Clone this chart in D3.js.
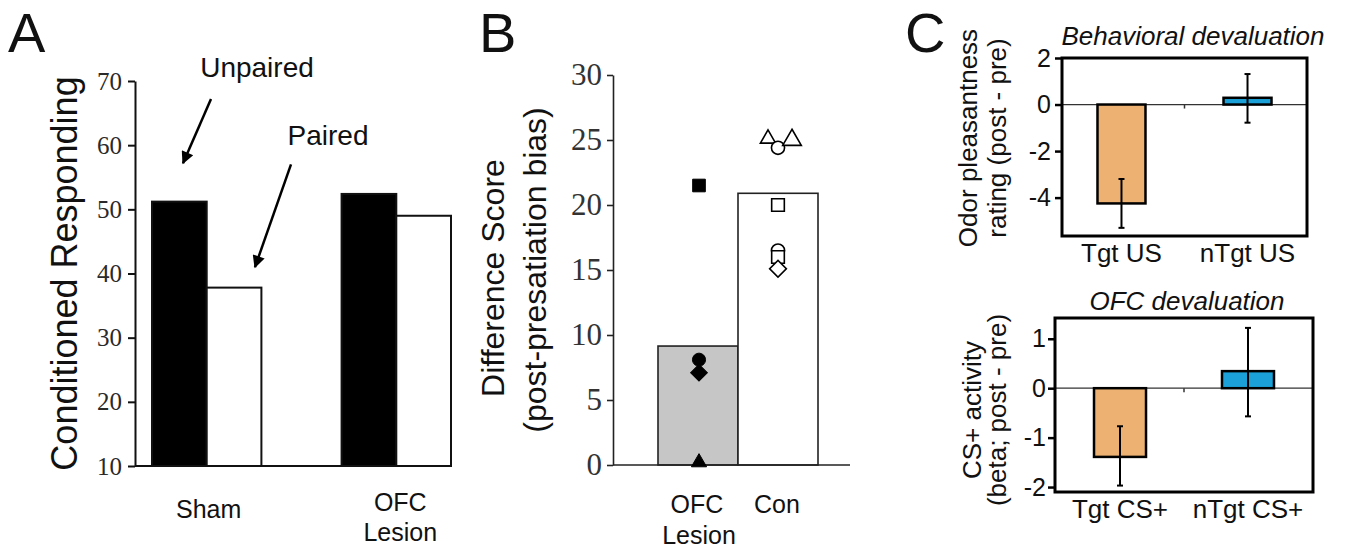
<!DOCTYPE html>
<html>
<head>
<meta charset="utf-8">
<script src="https://cdn.jsdelivr.net/npm/d3@7"></script>
<style>
  body { margin: 0; background: #fff; }
  text { font-family: "Liberation Sans", Arial, sans-serif; fill: #111; }
</style>
</head>
<body>
<div id="chart"></div>
<script>
// ---- data ----
let aGroups = ['Sham', 'OFC Lesion'];
let aSeries = ['Unpaired', 'Paired'];
let aUnpaired = [51.2, 52.4];
let aPaired = [37.8, 49.0];
let aTicks = [10, 20, 30, 40, 50, 60, 70];

let bGroups = ['OFC Lesion', 'Con'];
let bMeans = [9.15, 20.9];
let bTicks = [0, 5, 10, 15, 20, 25, 30];
let bOfcShapes = ['square', 'circle', 'diamond', 'triangle'];
let bOfcValues = [21.5, 8.1, 7.1, 0.2];
let bConShapes = ['triangle', 'circle', 'bigTriangle', 'square', 'circle', 'square', 'diamond'];
let bConValues = [25.1, 24.4, 25.0, 20.0, 16.5, 16.0, 15.1];
let bConJitter = [-10, 0, 14, 0, 0, 0, 0];

let cTopCats = ['Tgt US', 'nTgt US'];
let cTopMeans = [-4.25, 0.29];
let cTopErrLo = [-5.3, -0.78];
let cTopErrHi = [-3.2, 1.31];
let cTopTicks = [2, 0, -2, -4];

let cBotCats = ['Tgt CS+', 'nTgt CS+'];
let cBotMeans = [-1.39, 0.345];
let cBotErrLo = [-1.97, -0.57];
let cBotErrHi = [-0.77, 1.22];
let cBotTicks = [1, 0, -1, -2];

let cColors = ['#edb272', '#1ba1d8'];

let width = 1345;
let height = 550;
let serif = '"Liberation Serif", "Times New Roman", serif';
let sans = '"Liberation Sans", Arial, sans-serif';

let svg = d3.select('#chart')
  .append('svg')
  .attr('width', width)
  .attr('height', height);

svg.append('rect').attr('width', width).attr('height', height).attr('fill', '#fff');

svg.append('defs').append('marker')
  .attr('id', 'arrow')
  .attr('viewBox', '0 0 10 10')
  .attr('refX', 9).attr('refY', 5)
  .attr('markerWidth', 6).attr('markerHeight', 5)
  .attr('markerUnits', 'strokeWidth')
  .attr('orient', 'auto')
  .append('path')
  .attr('d', 'M0,0 L10,5 L0,10 Z')
  .attr('fill', '#000');

// panel letters
[['A', 8, 52], ['B', 479, 52], ['C', 905, 52]].forEach(d => {
  svg.append('text').attr('x', d[1]).attr('y', d[2])
    .attr('font-size', 56).text(d[0]);
});

// ---- panel A ----
let yA = d3.scaleLinear().domain([10, 70]).range([466, 81]);
let xA = d3.scaleBand().domain(aGroups).range([152, 451]).paddingInner(0.423);
let xAs = d3.scaleBand().domain(aSeries).range([0, xA.bandwidth()]);

let gA = svg.append('g');
let aRows = [];
aGroups.forEach((g, i) => {
  aRows.push({group: g, series: 'Unpaired', value: aUnpaired[i]});
  aRows.push({group: g, series: 'Paired', value: aPaired[i]});
});

gA.selectAll('rect.bar')
  .data(aRows)
  .enter()
  .append('rect')
  .attr('class', 'bar')
  .attr('x', d => xA(d.group) + xAs(d.series))
  .attr('y', d => yA(d.value))
  .attr('width', xAs.bandwidth())
  .attr('height', d => yA(10) - yA(d.value))
  .attr('fill', d => d.series === 'Unpaired' ? '#000' : '#fff')
  .attr('stroke', '#111')
  .attr('stroke-width', 2);

gA.append('line')
  .attr('x1', 135).attr('x2', 452)
  .attr('y1', yA(10)).attr('y2', yA(10))
  .attr('stroke', '#111').attr('stroke-width', 2);

let axA = gA.append('g')
  .attr('transform', 'translate(135,0)')
  .call(d3.axisLeft(yA).tickValues(aTicks).tickSize(7).tickSizeOuter(0).tickPadding(6));
axA.select('.domain').attr('stroke', '#111').attr('stroke-width', 2);
axA.selectAll('.tick line').attr('stroke', '#111').attr('stroke-width', 2);
axA.selectAll('.tick text')
  .style('font-family', serif).style('font-size', '25px').style('fill', '#2a2a2a');

gA.append('text')
  .attr('transform', `translate(77,${(81 + 466) / 2}) rotate(-90)`)
  .attr('text-anchor', 'middle')
  .attr('font-size', 36)
  .text('Conditioned Responding');

// group labels
let aLabelY = [[509], [502, 532]];
aGroups.forEach((g, i) => {
  let words = g.split(' ');
  words.forEach((w, j) => {
    gA.append('text')
      .attr('x', xA(g) + xA.bandwidth() / 2 + (i === 1 ? 4 : 2))
      .attr('y', aLabelY[i][j] + 9)
      .attr('text-anchor', 'middle')
      .attr('font-size', 25)
      .text(w);
  });
});

// annotations with arrows
gA.append('text').attr('x', 257).attr('y', 77).attr('text-anchor', 'middle')
  .attr('font-size', 28).text('Unpaired');
gA.append('text').attr('x', 328).attr('y', 145).attr('text-anchor', 'middle')
  .attr('font-size', 28).text('Paired');

[[211, 67.2, 183, 57.2], [291, 57.0, 255, 41.0]].forEach(a => {
  gA.append('line')
    .attr('x1', a[0]).attr('y1', yA(a[1]))
    .attr('x2', a[2]).attr('y2', yA(a[3]))
    .attr('stroke', '#000').attr('stroke-width', 2.5)
    .attr('marker-end', 'url(#arrow)');
});

// ---- panel B ----
let yB = d3.scaleLinear().domain([0, 30]).range([465, 75]);
let xB = d3.scaleBand().domain(bGroups).range([658, 818]);
let gB = svg.append('g');

gB.selectAll('rect.bar')
  .data(bGroups)
  .enter()
  .append('rect')
  .attr('x', d => xB(d))
  .attr('y', (d, i) => yB(bMeans[i]))
  .attr('width', xB.bandwidth())
  .attr('height', (d, i) => yB(0) - yB(bMeans[i]))
  .attr('fill', (d, i) => i === 0 ? '#c6c6c6' : '#fff')
  .attr('stroke', '#222')
  .attr('stroke-width', 1.6);

gB.append('line')
  .attr('x1', 613).attr('x2', 850)
  .attr('y1', yB(0)).attr('y2', yB(0))
  .attr('stroke', '#222').attr('stroke-width', 1.6);

let axB = gB.append('g')
  .attr('transform', 'translate(613,0)')
  .call(d3.axisLeft(yB).tickValues(bTicks).tickSize(6).tickSizeOuter(0).tickPadding(5));
axB.select('.domain').attr('stroke', '#222').attr('stroke-width', 1.6);
axB.selectAll('.tick line').attr('stroke', '#222').attr('stroke-width', 1.6);
axB.selectAll('.tick text')
  .style('font-family', serif).style('font-size', '31px').style('fill', '#333');

let sym = {
  square: d3.symbol().type(d3.symbolSquare).size(160),
  circle: d3.symbol().type(d3.symbolCircle).size(135),
  diamond: d3.symbol().type(d3.symbolSquare).size(140),
  triangle: d3.symbol().type(d3.symbolTriangle).size(100),
  bigTriangle: d3.symbol().type(d3.symbolTriangle).size(150)
};

function drawPoints(shapes, values, group, filled, jitter) {
  gB.selectAll(null)
    .data(values)
    .enter()
    .append('path')
    .attr('d', (d, i) => sym[shapes[i]]())
    .attr('transform', (d, i) => {
      let x = xB(group) + xB.bandwidth() / 2 + (jitter ? jitter[i] : 1);
      let rot = shapes[i] === 'diamond' ? ' rotate(45)' : '';
      return `translate(${x},${yB(d)})${rot}`;
    })
    .attr('fill', filled ? '#000' : '#fff')
    .attr('stroke', '#000')
    .attr('stroke-width', filled ? 1 : 1.6);
}
drawPoints(bOfcShapes, bOfcValues, 'OFC Lesion', true, null);
drawPoints(bConShapes, bConValues, 'Con', false, bConJitter);

gB.append('text')
  .attr('transform', `translate(504,${(75 + 465) / 2 + 8}) rotate(-90)`)
  .attr('text-anchor', 'middle')
  .attr('font-size', 32)
  .text('Difference Score');
gB.append('text')
  .attr('transform', `translate(546,${(75 + 465) / 2}) rotate(-90)`)
  .attr('text-anchor', 'middle')
  .attr('font-size', 32)
  .text('(post-presatiation bias)');

gB.append('text').attr('x', 697).attr('y', 513).attr('text-anchor', 'middle')
  .attr('font-size', 25).text('OFC');
gB.append('text').attr('x', 699).attr('y', 544).attr('text-anchor', 'middle')
  .attr('font-size', 25).text('Lesion');
gB.append('text').attr('x', 777).attr('y', 513).attr('text-anchor', 'middle')
  .attr('font-size', 25).text('Con');

// ---- panel C ----
function drawC(cfg) {
  let g = svg.append('g');
  let y = d3.scaleLinear().domain(cfg.domain).range([cfg.bottom, cfg.top]);
  let x = d3.scalePoint().domain(cfg.cats).range([cfg.left, cfg.right]).padding(cfg.pad);

  g.append('text')
    .attr('x', cfg.titleX).attr('y', cfg.titleY)
    .attr('text-anchor', 'middle')
    .attr('font-size', 26)
    .attr('font-style', 'italic')
    .text(cfg.title);

  g.append('line')
    .attr('x1', cfg.left).attr('x2', cfg.right)
    .attr('y1', y(0)).attr('y2', y(0))
    .attr('stroke', '#333').attr('stroke-width', 1.2);

  let mid = (x(cfg.cats[0]) + x(cfg.cats[1])) / 2;
  g.append('line')
    .attr('x1', mid).attr('x2', mid)
    .attr('y1', y(0)).attr('y2', y(0) + 4)
    .attr('stroke', '#333').attr('stroke-width', 1.5);

  g.selectAll('rect.bar')
    .data(cfg.means)
    .enter()
    .append('rect')
    .attr('x', (d, i) => x(cfg.cats[i]) - cfg.barW / 2)
    .attr('y', d => y(Math.max(0, d)))
    .attr('width', cfg.barW)
    .attr('height', d => Math.abs(y(d) - y(0)))
    .attr('fill', (d, i) => cColors[i])
    .attr('stroke', '#000')
    .attr('stroke-width', 2.5);

  cfg.cats.forEach((c, i) => {
    let cx = x(c);
    g.append('line')
      .attr('x1', cx).attr('x2', cx)
      .attr('y1', y(cfg.lo[i])).attr('y2', y(cfg.hi[i]))
      .attr('stroke', '#000').attr('stroke-width', 2);
    [cfg.lo[i], cfg.hi[i]].forEach(v => {
      g.append('line')
        .attr('x1', cx - 3).attr('x2', cx + 3)
        .attr('y1', y(v)).attr('y2', y(v))
        .attr('stroke', '#000').attr('stroke-width', 2);
    });
    g.append('text')
      .attr('x', cx).attr('y', cfg.bottom + 26)
      .attr('text-anchor', 'middle')
      .attr('font-size', 26)
      .text(c);
  });

  g.append('rect')
    .attr('x', cfg.left).attr('y', cfg.top)
    .attr('width', cfg.right - cfg.left)
    .attr('height', cfg.bottom - cfg.top)
    .attr('fill', 'none')
    .attr('stroke', '#000')
    .attr('stroke-width', 3);

  let ax = g.append('g')
    .attr('transform', `translate(${cfg.left},0)`)
    .call(d3.axisLeft(y).tickValues(cfg.ticks).tickSize(7).tickSizeOuter(0)
      .tickPadding(cfg.tickPad).tickFormat(d => String(d)));
  ax.select('.domain').remove();
  ax.selectAll('.tick line').attr('stroke', '#000').attr('stroke-width', 2.5);
  ax.selectAll('.tick text')
    .style('font-family', sans).style('font-size', '25px').style('fill', '#111');

  cfg.ylabel.forEach((t, i) => {
    g.append('text')
      .attr('transform', `translate(${cfg.ylabelX[i]},${cfg.ylabelY}) rotate(-90)`)
      .attr('text-anchor', 'middle')
      .attr('font-size', 26)
      .text(t);
  });
}

drawC({
  cats: cTopCats, means: cTopMeans, lo: cTopErrLo, hi: cTopErrHi, ticks: cTopTicks,
  domain: [-5.65, 2], left: 1062, right: 1307, top: 58, bottom: 236, pad: 0.472,
  barW: 48, tickPad: 4,
  title: 'Behavioral devaluation', titleX: 1193, titleY: 45,
  ylabel: ['Odor pleasantness', 'rating (post - pre)'], ylabelX: [977, 1006], ylabelY: 138
});

drawC({
  cats: cBotCats, means: cBotMeans, lo: cBotErrLo, hi: cBotErrHi, ticks: cBotTicks,
  domain: [-2.1, 1.42], left: 1055, right: 1313, top: 318, bottom: 492, pad: 0.508,
  barW: 52, tickPad: 2,
  title: 'OFC devaluation', titleX: 1187, titleY: 310,
  ylabel: ['CS+ activity', '(beta; post - pre)'], ylabelX: [981, 1006], ylabelY: 410
});
</script>
</body>
</html>
